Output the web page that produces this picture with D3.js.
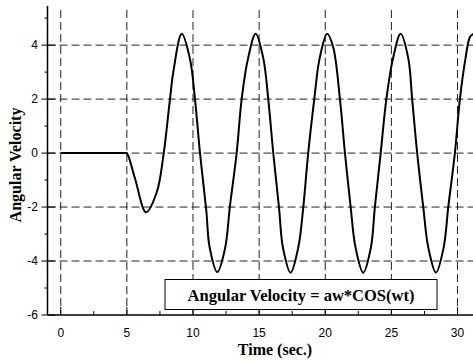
<!DOCTYPE html>
<html>
<head>
<meta charset="utf-8">
<script src="https://cdn.jsdelivr.net/npm/d3@7"></script>
<style>
  body { margin: 0; background: #fff; }
</style>
</head>
<body>
<script>
// Data
let time = [0, 4.9, 5.0, 5.62, 6.45, 7.26, 7.76, 8.26, 8.51, 9.15, 9.77, 10.15, 10.53,
  11.0, 11.26, 11.84, 12.42, 12.8, 13.3, 13.68, 14.16, 14.74, 15.32, 15.69, 16.07,
  16.5, 16.8, 17.38, 17.96, 18.34, 18.71, 19.17, 19.57, 20.15, 20.61, 21.11, 21.49,
  21.92, 22.29, 22.87, 23.45, 23.75, 24.19, 24.62, 25.12, 25.7, 26.28, 26.57, 26.95,
  27.41, 27.79, 28.37, 28.95, 29.3, 29.8, 30.18, 30.6, 30.94, 31.2];
let velocity = [0, 0, 0, -0.95, -2.19, -1.45, -0.1, 2.0, 3.0, 4.42, 3.49, 2.0, 0,
  -2.1, -3.5, -4.41, -3.54, -1.94, 0, 2.0, 3.5, 4.42, 3.5, 2.0, 0,
  -2.0, -3.5, -4.43, -3.5, -2.0, 0, 2.0, 3.5, 4.42, 3.9, 2.0, 0,
  -2.0, -3.5, -4.43, -3.5, -2.0, 0, 2.0, 3.5, 4.42, 3.5, 2.0, 0,
  -2.0, -3.5, -4.43, -3.5, -2.0, 0, 2.0, 3.5, 4.3, 4.42];

let xTicks = [0, 5, 10, 15, 20, 25, 30];
let xMinor = [2.5, 7.5, 12.5, 17.5, 22.5, 27.5];
let yTicks = [-6, -4, -2, 0, 2, 4];
let yMinor = [-5, -3, -1, 1, 3, 5];
let legendText = "Angular Velocity = aw*COS(wt)";

let width = 473;
let height = 362;

let svg = d3
  .select("body")
  .append("svg")
  .attr("width", width)
  .attr("height", height);

let xScale = d3.scaleLinear().domain([-1, 31.17]).range([47.5, 473]);
let yScale = d3.scaleLinear().domain([-6, 5.45]).range([315, 6]);

let x0 = xScale(-1);
let y0 = yScale(-6);

// Grid lines
svg
  .append("g")
  .selectAll("line")
  .data(xTicks)
  .join("line")
  .attr("x1", (d) => xScale(d))
  .attr("x2", (d) => xScale(d))
  .attr("y1", 10)
  .attr("y2", y0)
  .attr("stroke", "#222")
  .attr("stroke-width", 1)
  .attr("stroke-dasharray", "8,4");

svg
  .append("g")
  .selectAll("line")
  .data(yTicks.filter((d) => d > -6))
  .join("line")
  .attr("x1", x0)
  .attr("x2", width)
  .attr("y1", (d) => yScale(d))
  .attr("y2", (d) => yScale(d))
  .attr("stroke", "#222")
  .attr("stroke-width", 1)
  .attr("stroke-dasharray", "8,4");

// Curve
let line = d3
  .line()
  .x((d, i) => xScale(time[i]))
  .y((d) => yScale(d))
  .curve(d3.curveCatmullRom.alpha(0.5));

svg
  .append("path")
  .datum(velocity)
  .attr("d", line)
  .attr("fill", "none")
  .attr("stroke", "#000")
  .attr("stroke-width", 2);

// Axes
svg
  .append("line")
  .attr("x1", x0)
  .attr("x2", x0)
  .attr("y1", yScale(5.45))
  .attr("y2", y0)
  .attr("stroke", "#000")
  .attr("stroke-width", 1.5);

svg
  .append("line")
  .attr("x1", x0)
  .attr("x2", width)
  .attr("y1", y0)
  .attr("y2", y0)
  .attr("stroke", "#000")
  .attr("stroke-width", 1.5);

// Y ticks (cross the axis) and minor ticks
svg
  .append("g")
  .selectAll("line")
  .data(yTicks)
  .join("line")
  .attr("x1", x0 - 6)
  .attr("x2", x0 + 8)
  .attr("y1", (d) => yScale(d))
  .attr("y2", (d) => yScale(d))
  .attr("stroke", "#000");

svg
  .append("g")
  .selectAll("line")
  .data(yMinor)
  .join("line")
  .attr("x1", x0 - 3)
  .attr("x2", x0)
  .attr("y1", (d) => yScale(d))
  .attr("y2", (d) => yScale(d))
  .attr("stroke", "#000");

// X ticks point up into the plot
svg
  .append("g")
  .selectAll("line")
  .data(xTicks)
  .join("line")
  .attr("x1", (d) => xScale(d))
  .attr("x2", (d) => xScale(d))
  .attr("y1", y0 - 8)
  .attr("y2", y0)
  .attr("stroke", "#000");

svg
  .append("g")
  .selectAll("line")
  .data(xMinor)
  .join("line")
  .attr("x1", (d) => xScale(d))
  .attr("x2", (d) => xScale(d))
  .attr("y1", y0 - 4)
  .attr("y2", y0)
  .attr("stroke", "#000");

// Tick labels
svg
  .append("g")
  .selectAll("text")
  .data(yTicks)
  .join("text")
  .attr("x", 38)
  .attr("y", (d) => yScale(d))
  .attr("dy", "0.35em")
  .attr("text-anchor", "end")
  .style("font-family", "Liberation Sans, Arial, sans-serif")
  .style("font-size", "12px")
  .text((d) => d);

svg
  .append("g")
  .selectAll("text")
  .data(xTicks)
  .join("text")
  .attr("x", (d) => xScale(d))
  .attr("y", 337)
  .attr("text-anchor", "middle")
  .style("font-family", "Liberation Sans, Arial, sans-serif")
  .style("font-size", "12px")
  .text((d) => d);

// Axis titles
svg
  .append("text")
  .attr("x", 275)
  .attr("y", 355)
  .attr("text-anchor", "middle")
  .style("font-family", "Liberation Serif, Times New Roman, serif")
  .style("font-weight", "bold")
  .style("font-size", "16px")
  .text("Time (sec.)");

svg
  .append("text")
  .attr("transform", "translate(21,165) rotate(-90)")
  .attr("text-anchor", "middle")
  .style("font-family", "Liberation Serif, Times New Roman, serif")
  .style("font-weight", "bold")
  .style("font-size", "16px")
  .text("Angular Velocity");

// Legend box
svg
  .append("rect")
  .attr("x", 165)
  .attr("y", 279.5)
  .attr("width", 272)
  .attr("height", 30)
  .attr("fill", "#fff")
  .attr("stroke", "#000")
  .attr("stroke-width", 1);

svg
  .append("text")
  .attr("x", 301)
  .attr("y", 300.5)
  .attr("text-anchor", "middle")
  .style("font-family", "Liberation Serif, Times New Roman, serif")
  .style("font-weight", "bold")
  .style("font-size", "16.5px")
  .text(legendText);
</script>
</body>
</html>
